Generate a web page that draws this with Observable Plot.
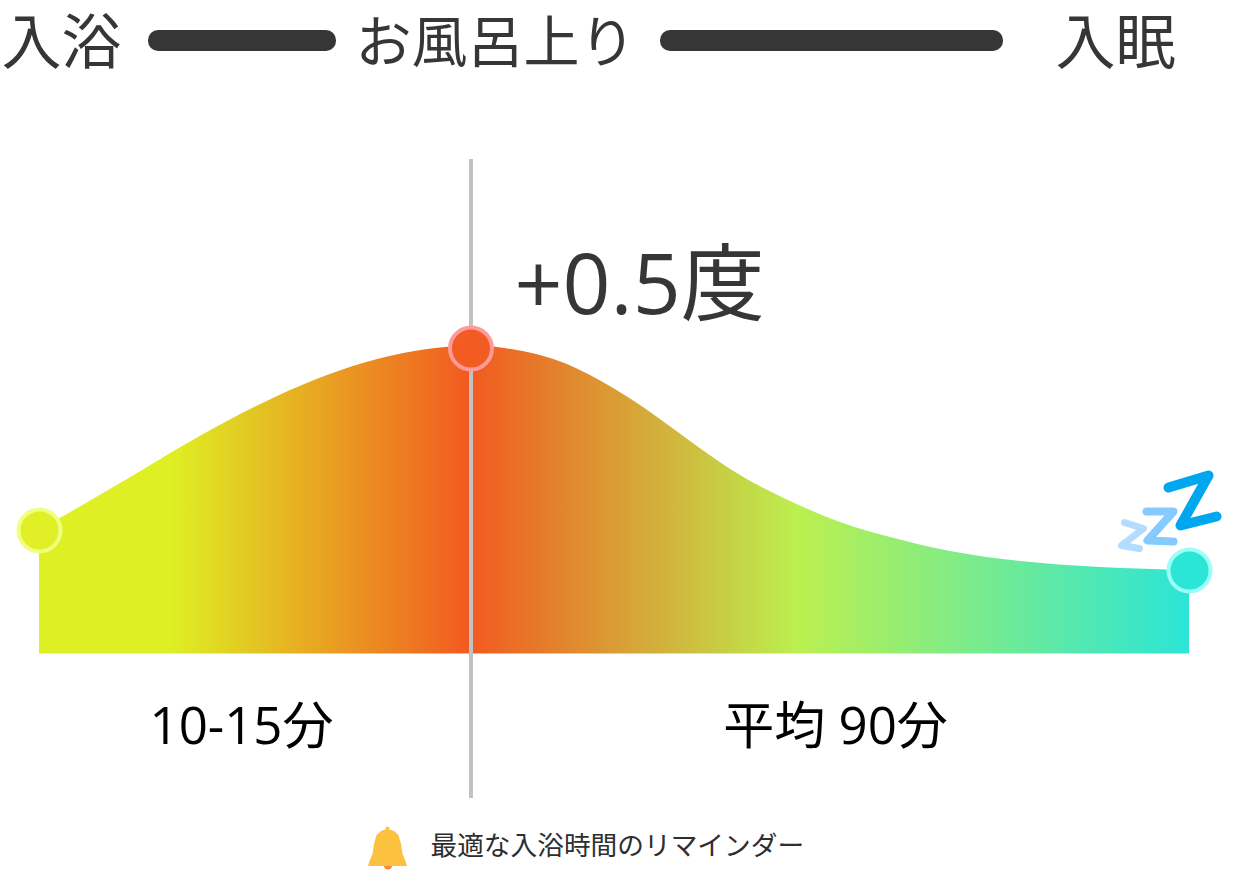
<!DOCTYPE html>
<html lang="ja">
<head>
<meta charset="utf-8">
<style>
html,body{margin:0;padding:0;background:#fff;overflow:hidden}
svg{display:block}
</style>
<script src="https://cdn.jsdelivr.net/npm/d3@7"></script>
<script src="https://cdn.jsdelivr.net/npm/@observablehq/plot@0.6"></script>
</head>
<body>
<div id="chart"></div>
<script>
const FONT = "'Open Sans','Noto Sans CJK JP',sans-serif";
const curveX = [39,127,177,227,277,327,377,427,470,490,540,590,640,690,740,790,840,890,950,1020,1100,1189];
const curveY = [530,479,449,421,396,375,359,349,345,346,355,375,405,441,475,501,522,537,551,561,567,570];
const baseY = 653.5;
const gradX = [39,172,470,798,1189];
const gradColor = ["#deef23","#deef23","#f25a20","#bbf04f","#2be5d7"];
const headerLabels = ["入浴","お風呂上り","入眠"];
const headerX = [1,355,1055];
const headerSize = [60,56,60];
const pillX1 = [148,660];
const pillX2 = [336,1003];
const dotX = [39,470.5,1189];
const dotY = [530,348,570];
const dotFill = ["#e0ef26","#f25c22","#2be5d7"];
const dotRing = ["#f0ff80","#ff9a9a","#9bfff8"];
const durLabels = ["10-15分","平均 90分"];
const durX = [241,835];
const zLines = [
  {id:"a",c:"#b3dcff",w:7,xs:[1124,1143,1121,1139],ys:[522,528,545,548]},
  {id:"b",c:"#85cbff",w:8,xs:[1146,1173,1147,1173],ys:[511,511,540,541]},
  {id:"c",c:"#00a6ee",w:10,xs:[1168,1208,1180,1216],ys:[487,475,525,516]}
];
const bellX = [368,369.5,372.5,374,376.5,381,385.5,386,387.5,389,389.5,394,398.5,401,402.5,405.5,407];
const bellTop = [866,861,854,844,835,831,829.5,827,826.5,827,829.5,831,835,844,854,861,866];
const bellBottom = 866;

const area = curveX.map((x,i)=>({x,y:curveY[i]}));
const idx = a => a.map((_,i)=>i);
const zData = zLines.flatMap(z=>z.xs.map((x,i)=>({id:z.id,c:z.c,w:z.w,x,y:z.ys[i]})));

const gradient = () => {
  const ns = "http://www.w3.org/2000/svg";
  const defs = document.createElementNS(ns,"defs");
  const g = document.createElementNS(ns,"linearGradient");
  g.setAttribute("id","warm");
  g.setAttribute("x1","0"); g.setAttribute("x2","1");
  gradX.forEach((x,i)=>{
    const s = document.createElementNS(ns,"stop");
    s.setAttribute("offset",(x-gradX[0])/(gradX[gradX.length-1]-gradX[0]));
    s.setAttribute("stop-color",gradColor[i]);
    g.appendChild(s);
  });
  defs.appendChild(g);
  return defs;
};

const plot = Plot.plot({
  width:1244,height:872,
  margin:0,
  style:{background:"#fff",fontFamily:FONT},
  x:{domain:[0,1244],range:[0,1244],axis:null},
  y:{domain:[0,872],range:[0,872],axis:null},
  marks:[
    gradient,
    Plot.areaY(area,{x:"x",y1:baseY,y2:"y",fill:"url(#warm)",curve:"natural"}),
    Plot.ruleX([470.5],{y1:159,y2:798,stroke:"#c2c2c2",strokeWidth:4}),
    Plot.rect(idx(pillX1),{x1:i=>pillX1[i],x2:i=>pillX2[i],y1:30,y2:51,fill:"#363636",rx:10}),
    Plot.text(idx(headerLabels),{x:i=>headerX[i],y:44,text:i=>headerLabels[i],textAnchor:"start",fontSize:i=>headerSize[i],fill:"#363636",fontWeight:400}),
    Plot.text(["+0.5度"],{x:514,y:287,text:d=>d,textAnchor:"start",fontSize:84,fill:"#363636",fontWeight:400}),
    Plot.text(durLabels,{x:(d,i)=>durX[i],y:727,text:d=>d,textAnchor:"middle",fontSize:51,fill:"#000",fontWeight:400}),
    Plot.text(["最適な入浴時間のリマインダー"],{x:430,y:846,text:d=>d,textAnchor:"start",fontSize:26.7,fill:"#2e2e2e",fontWeight:400}),
    Plot.dot(idx(dotX),{x:i=>dotX[i],y:i=>dotY[i],r:21,fill:i=>dotFill[i],stroke:i=>dotRing[i],strokeWidth:4}),
    Plot.line(zData,{x:"x",y:"y",z:"id",stroke:"c",strokeWidth:"w",curve:"linear",strokeLinecap:"round",strokeLinejoin:"round"}),
    Plot.dot([387.5],{x:d=>d,y:865,r:4,fill:"#f58a3c"}),
    Plot.areaY(idx(bellX),{x:i=>bellX[i],y1:bellBottom,y2:i=>bellTop[i],fill:"#fcc13e",curve:"linear"})
  ]
});
document.getElementById("chart").appendChild(plot);
</script>
</body>
</html>
